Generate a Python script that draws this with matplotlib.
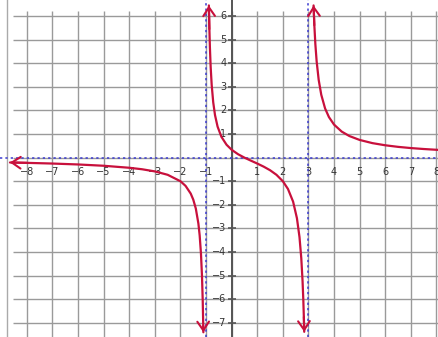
import matplotlib
matplotlib.use("Agg")
import matplotlib.pyplot as plt

# curve points, one list pair per branch
left_x = [-8.66, -8, -7, -6, -5, -4, -3.5, -3, -2.5, -2, -1.8, -1.6, -1.5,
          -1.4, -1.3, -1.25, -1.2, -1.16, -1.13, -1.11, -1.105]
left_y = [-0.205, -0.221, -0.25, -0.289, -0.344, -0.429, -0.492, -0.583, -0.727,
          -1.0, -1.198, -1.522, -1.778, -2.159, -2.791, -3.294, -4.048, -4.988,
          -6.072, -7.122, -7.40]

mid_x = [-0.89, -0.87, -0.85, -0.82, -0.78, -0.72, -0.65, -0.55, -0.4, -0.2, 0,
         0.25, 0.5, 0.75, 1, 1.25, 1.5, 1.75, 2, 2.2, 2.4, 2.55, 2.65, 2.72,
         2.77, 2.8, 2.82, 2.835]
mid_y = [6.45, 5.446, 4.675, 3.839, 3.078, 2.343, 1.8, 1.315, 0.882, 0.547, 0.333,
         0.145, 0.0, -0.127, -0.25, -0.381, -0.533, -0.727, -1.0, -1.328, -1.863,
         -2.567, -3.366, -4.263, -5.236, -6.053, -6.748, -7.38]

right_x = [3.2, 3.23, 3.27, 3.32, 3.4, 3.5, 3.65, 3.8, 4, 4.3, 4.6, 5, 5.5, 6,
           6.5, 7, 7.5, 8, 8.2]
right_y = [6.45, 5.612, 4.805, 4.08, 3.295, 2.667, 2.084, 1.719, 1.4, 1.103, 0.915,
           0.75, 0.615, 0.524, 0.457, 0.406, 0.366, 0.333, 0.322]

asym_x = [-1, 3]
asym_y = [0]

x_ticks = [-8, -7, -6, -5, -4, -3, -2, -1, 1, 2, 3, 4, 5, 6, 7, 8]
y_ticks = [-7, -6, -5, -4, -3, -2, -1, 1, 2, 3, 4, 5, 6]

CURVE = "#c8103c"
GRID = "#9a9a9a"
ASYM = "#3a3ad0"

fig = plt.figure(figsize=(4.39, 3.37), dpi=100)
ax = fig.add_axes([0, 0, 1, 1])
ax.set_xlim(-9.05, 8.1)
ax.set_ylim(-7.6, 6.68)
ax.axis("off")

# grid
ax.vlines(list(range(-8, 9)), -7.6, 6.2, color=GRID, lw=1.0, zorder=1)
ax.hlines(list(range(-7, 7)), -8.55, 8.1, color=GRID, lw=1.0, zorder=1)
ax.axvline(-8.78, color="#aaaaaa", lw=1.0, zorder=1)

# y axis with ticks and labels
ax.axvline(0, color="#555555", lw=1.4, zorder=2)
ax.hlines(y_ticks, -0.16, 0.16, color="#555555", lw=1.2, zorder=2)
for v in y_ticks:
    ax.text(-0.2, v, str(v).replace("-", "\u2212"), ha="right", va="center",
            fontsize=7, color="#333333", zorder=3)
for v in x_ticks:
    ax.text(v, -0.6, str(v).replace("-", "\u2212"), ha="center", va="center",
            fontsize=7, color="#333333", zorder=3)

# asymptotes
for v in asym_x:
    ax.axvline(v, color=ASYM, lw=1.1, ls=(0, (1.5, 2)), zorder=4)
for v in asym_y:
    ax.axhline(v, color=ASYM, lw=1.1, ls=(0, (1.5, 2)), zorder=4)

# curve branches with open arrowheads at the ends
arrow = dict(arrowstyle="->,head_length=0.45,head_width=0.3", color=CURVE,
             lw=1.5, mutation_scale=14, shrinkA=0, shrinkB=0)
for xs, ys in [(left_x, left_y), (mid_x, mid_y), (right_x, right_y)]:
    ax.plot(xs, ys, color=CURVE, lw=1.6, solid_capstyle="round", zorder=5)

ax.annotate("", xy=(left_x[0], left_y[0]), xytext=(left_x[1], left_y[1]),
            arrowprops=arrow, zorder=6)
ax.annotate("", xy=(left_x[-1], left_y[-1]), xytext=(left_x[-2], left_y[-2]),
            arrowprops=arrow, zorder=6)
ax.annotate("", xy=(mid_x[0], mid_y[0]), xytext=(mid_x[1], mid_y[1]),
            arrowprops=arrow, zorder=6)
ax.annotate("", xy=(mid_x[-1], mid_y[-1]), xytext=(mid_x[-2], mid_y[-2]),
            arrowprops=arrow, zorder=6)
ax.annotate("", xy=(right_x[0], right_y[0]), xytext=(right_x[1], right_y[1]),
            arrowprops=arrow, zorder=6)

fig.savefig("out.png", dpi=100)
